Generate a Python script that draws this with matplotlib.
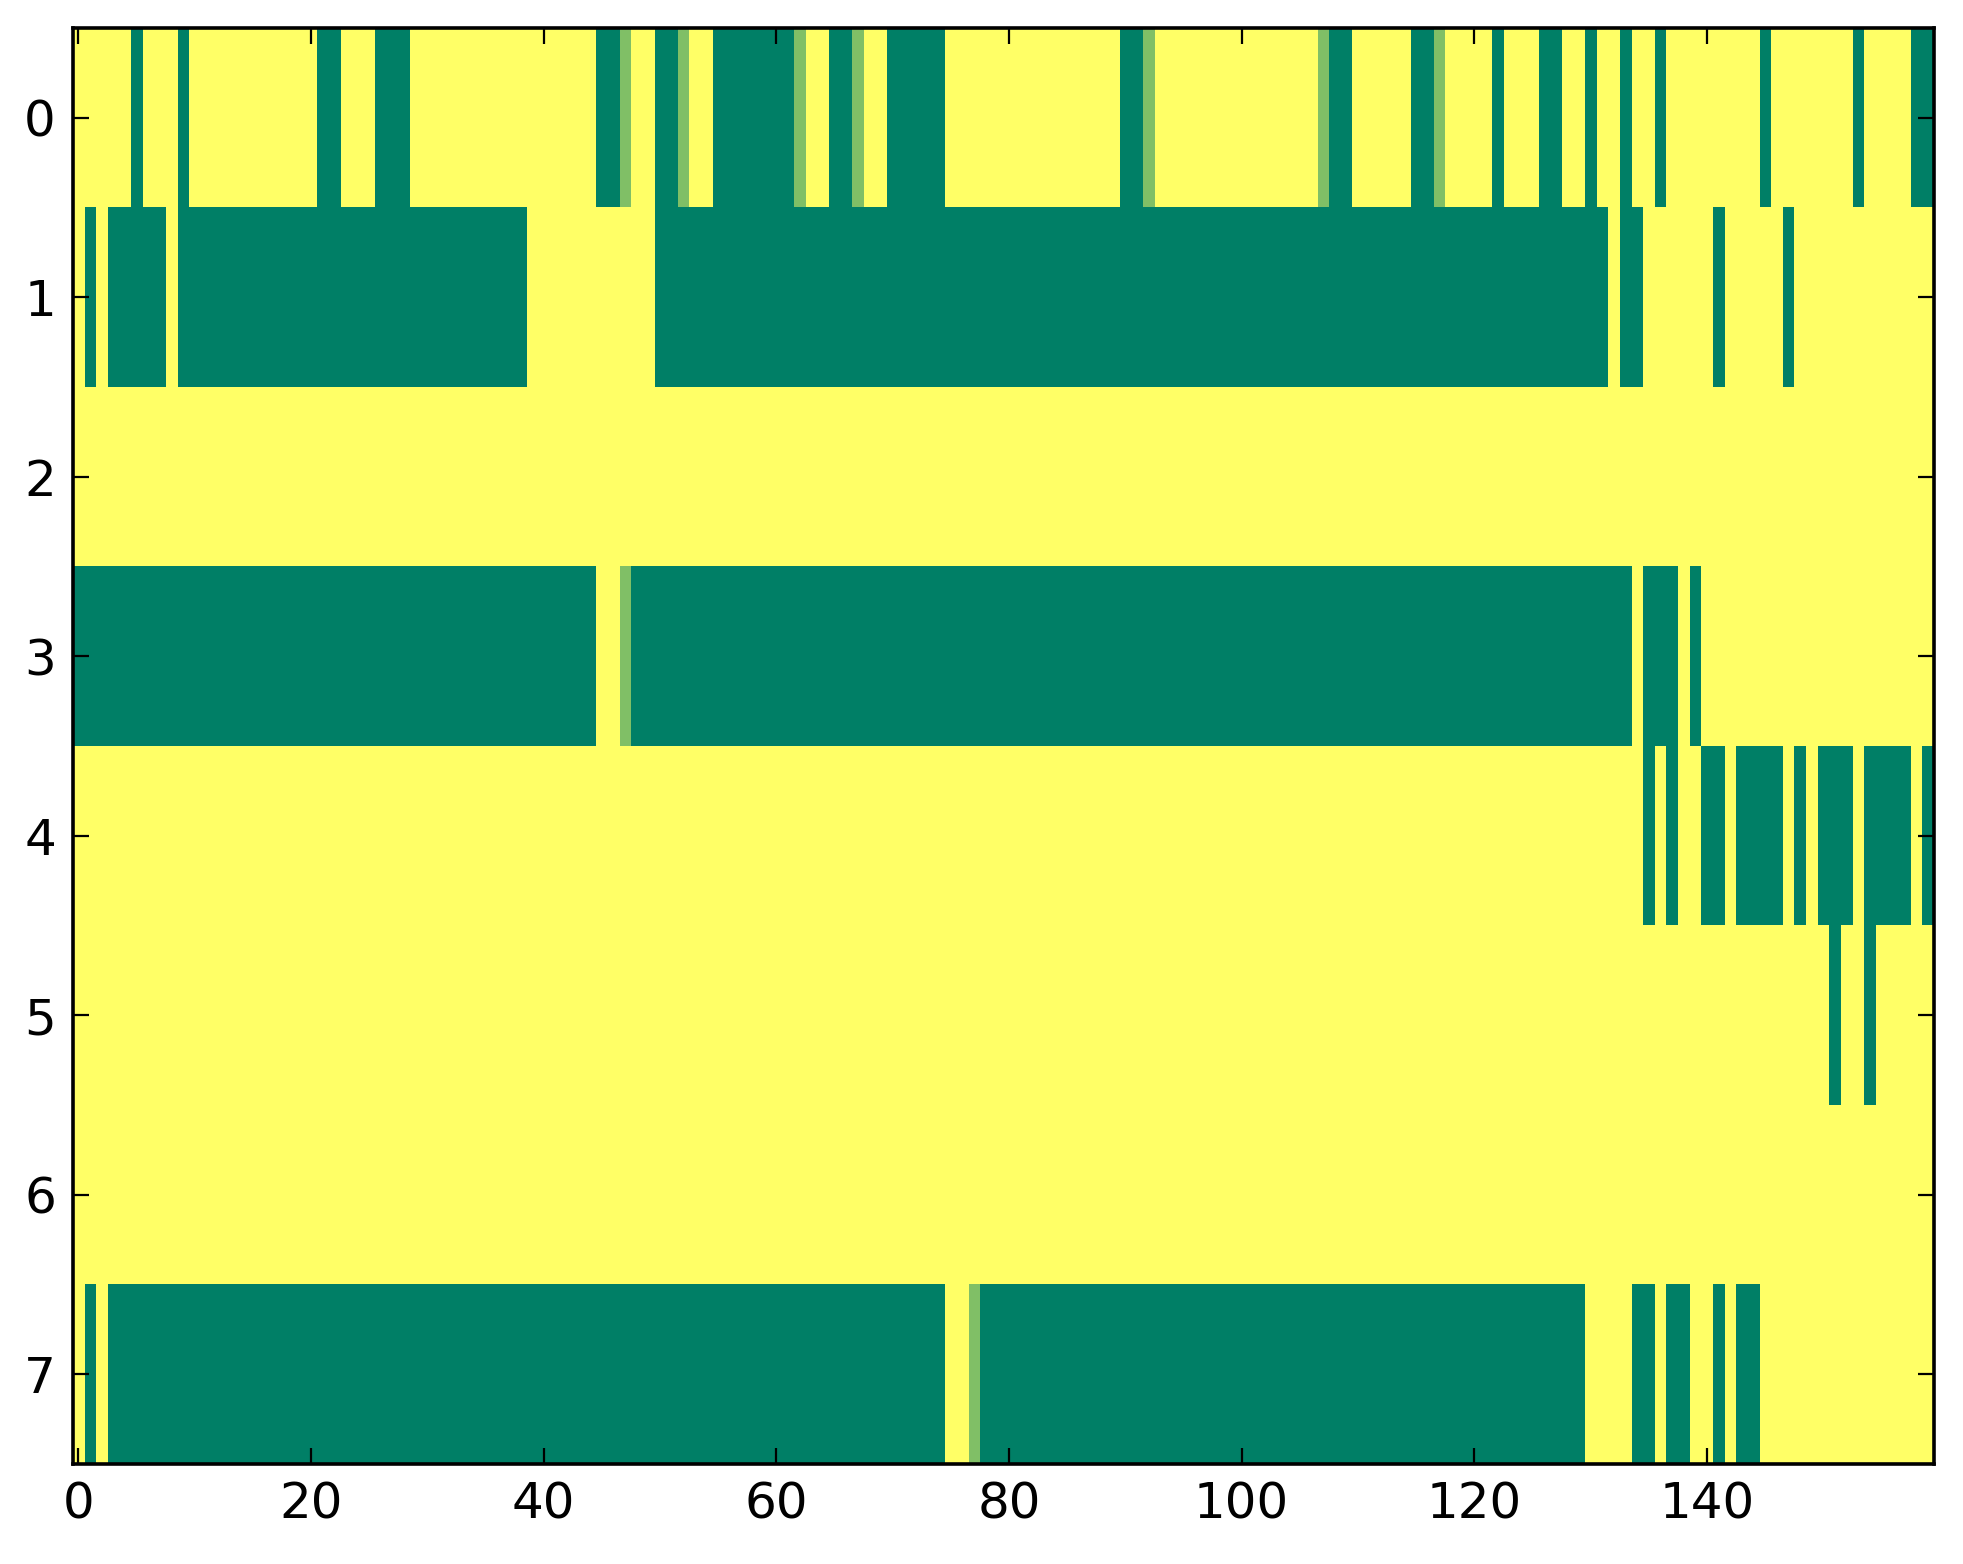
import numpy as np
import matplotlib
matplotlib.use('Agg')
import matplotlib.pyplot as plt

n_rows = 8
n_cols = 160

# green cells (value 0) per row, given as inclusive (start, end) column runs
row0_green = [(5, 5), (9, 9), (21, 22), (26, 28), (45, 46), (50, 51), (55, 61),
              (65, 66), (70, 74), (90, 91), (108, 109), (115, 116), (122, 122),
              (126, 127), (130, 130), (133, 133), (136, 136), (145, 145),
              (153, 153), (158, 159)]
row1_green = [(1, 1), (3, 7), (9, 38), (50, 131), (133, 134), (141, 141), (147, 147)]
row2_green = []
row3_green = [(0, 44), (48, 133), (135, 137), (139, 139)]
row4_green = [(135, 135), (137, 137), (140, 141), (143, 146), (148, 148),
              (150, 152), (154, 157), (159, 159)]
row5_green = [(151, 151), (154, 154)]
row6_green = []
row7_green = [(1, 1), (3, 74), (78, 129), (134, 135), (137, 138), (141, 141), (143, 144)]

# light cells (value 0.5): (row, column)
light_cells = [(0, 47), (0, 52), (0, 62), (0, 67), (0, 92), (0, 107), (0, 117),
               (3, 47), (7, 77)]

green_rows = [row0_green, row1_green, row2_green, row3_green,
              row4_green, row5_green, row6_green, row7_green]

grid = np.ones((n_rows, n_cols))
for r, runs in enumerate(green_rows):
    for a, b in runs:
        grid[r, a:b + 1] = 0.0
for r, c in light_cells:
    grid[r, c] = 0.5

fig = plt.figure(figsize=(9.815, 7.82), dpi=200)
ax = fig.add_axes([0.037, 0.064, 0.948, 0.918])
ax.imshow(grid, cmap='summer', vmin=0, vmax=1, aspect='auto', interpolation='nearest')

ax.set_xticks(np.arange(0, 141, 20))
ax.set_yticks(np.arange(0, 8))
ax.tick_params(direction='in', top=True, right=True, length=5.7, width=0.8,
               labelsize=18, color='black')
ax.tick_params(axis='x', pad=6)
ax.tick_params(axis='y', pad=6)
for s in ax.spines.values():
    s.set_linewidth(1.3)

fig.savefig('out.png', dpi=200)
